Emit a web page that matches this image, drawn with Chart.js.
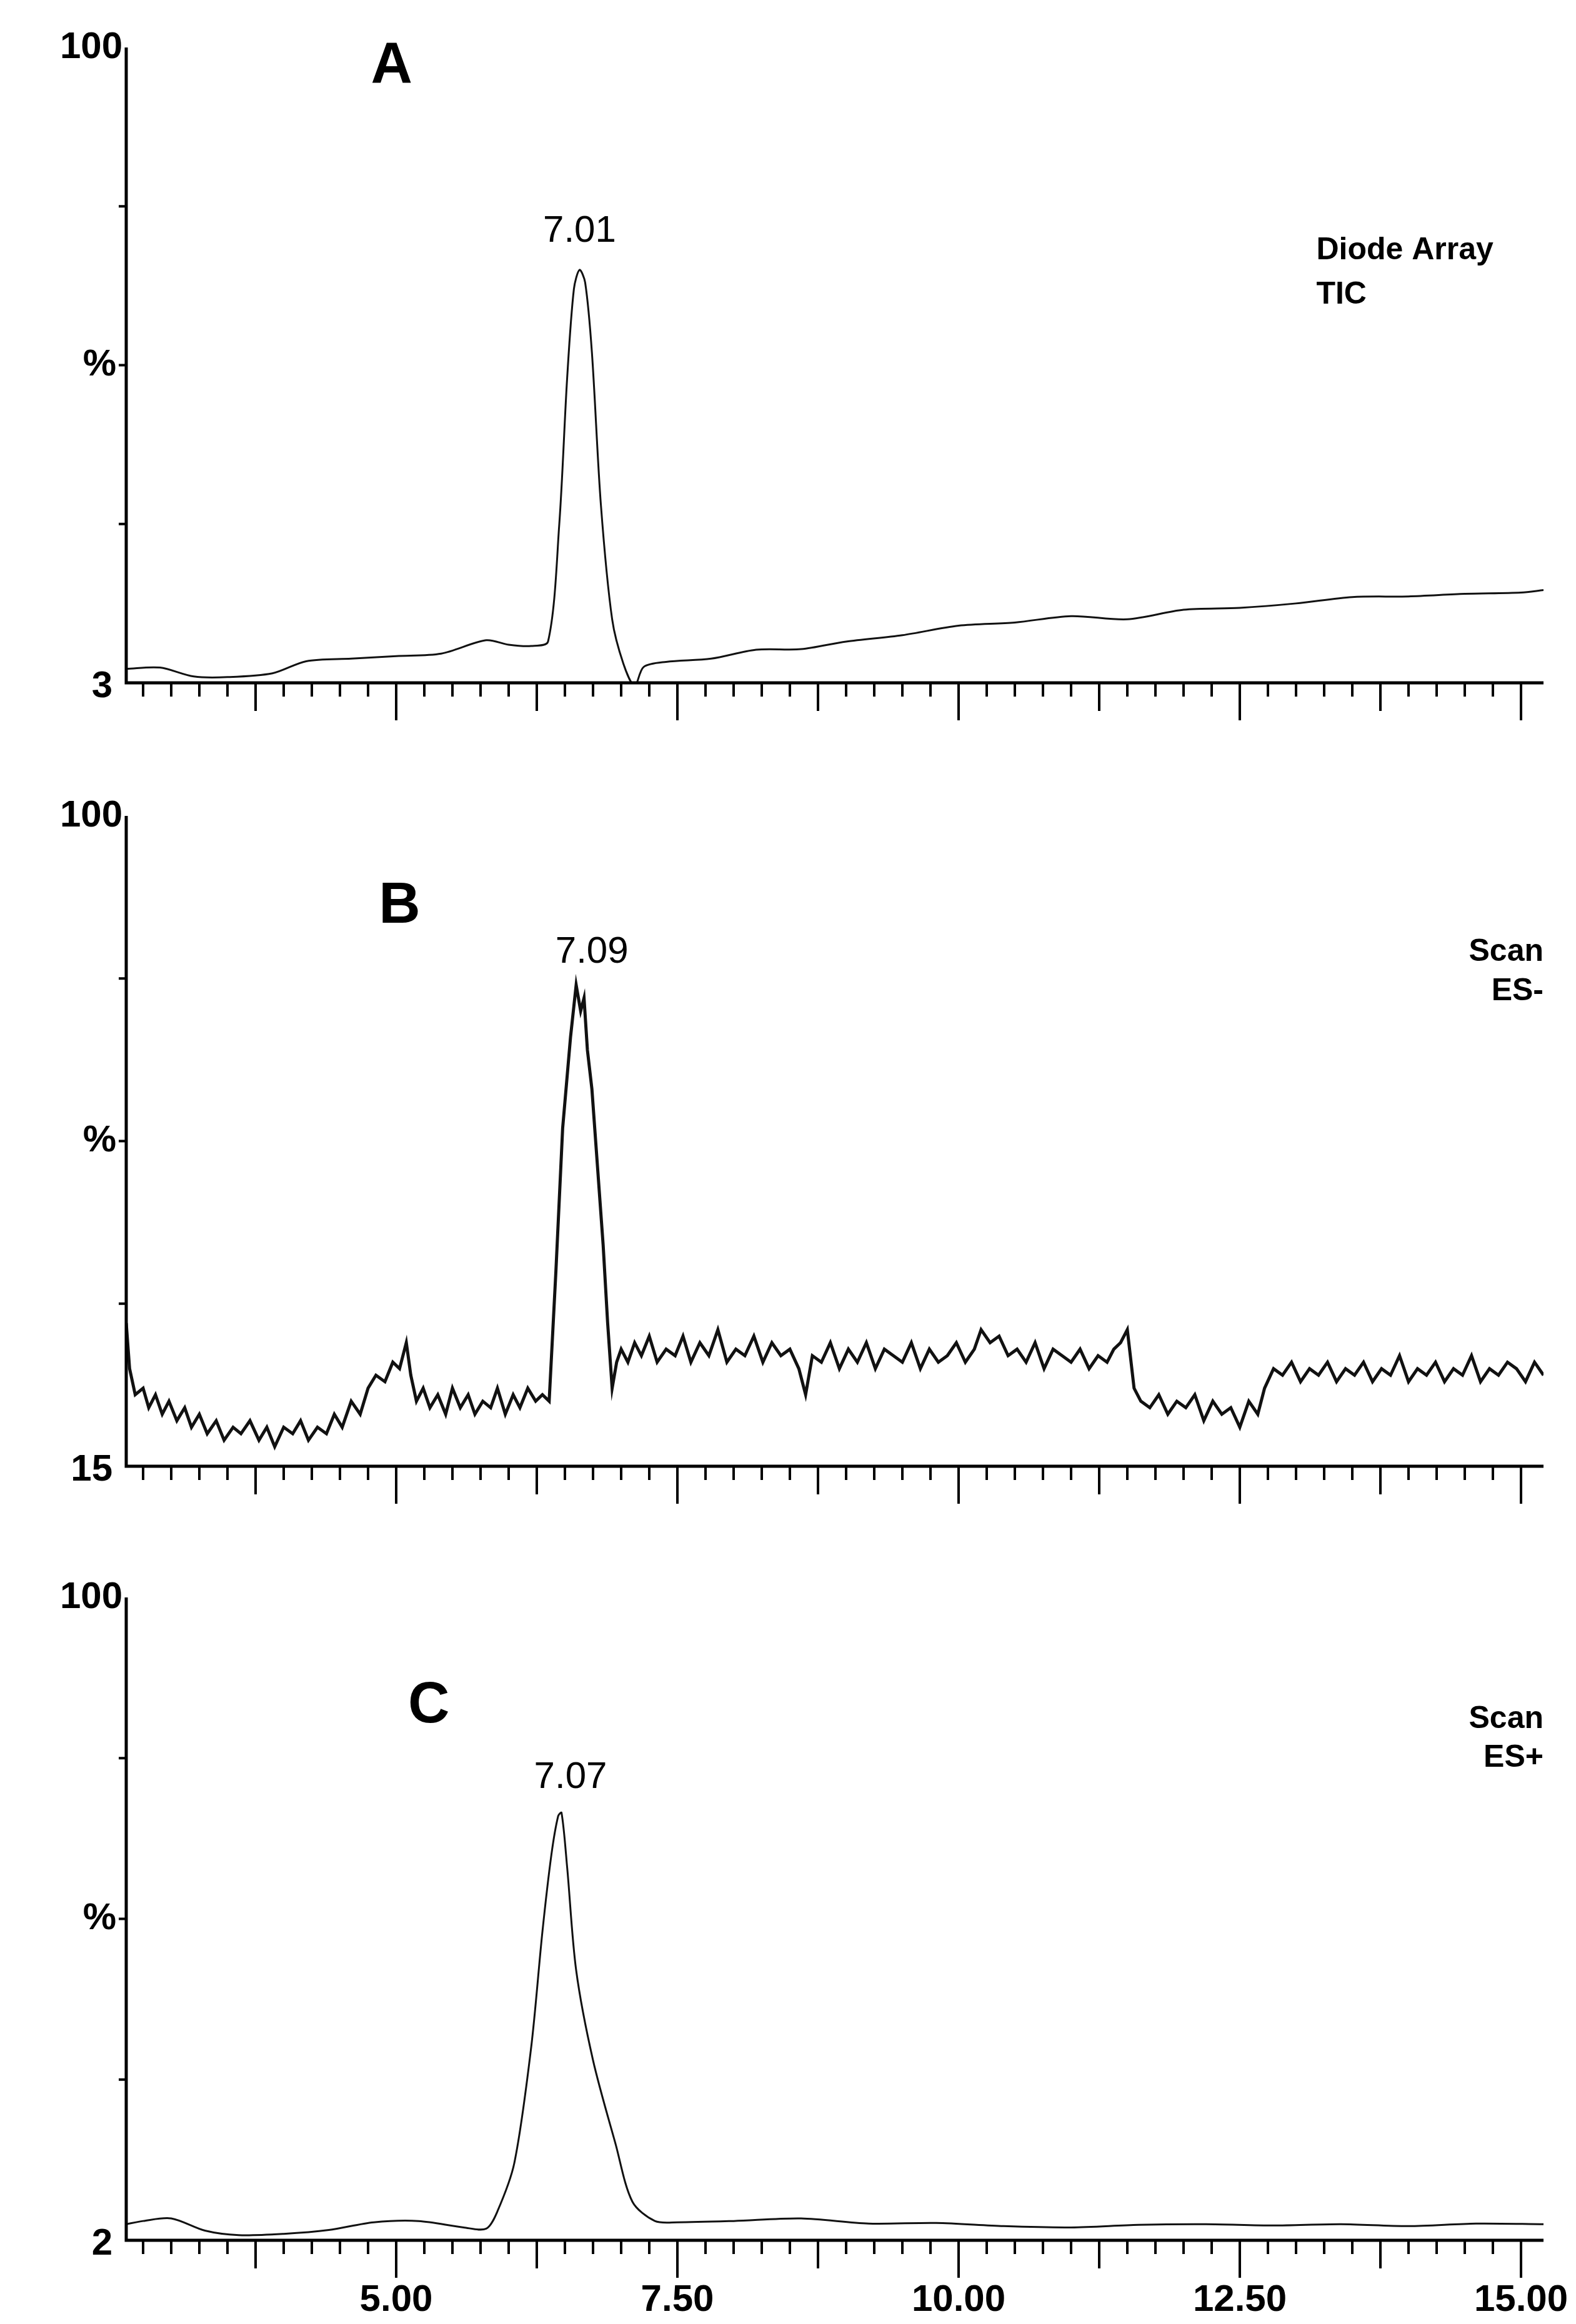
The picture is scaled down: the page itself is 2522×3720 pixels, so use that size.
<!DOCTYPE html>
<html><head><meta charset="utf-8">
<script src="https://cdn.jsdelivr.net/npm/chart.js@4.4.1/dist/chart.umd.min.js"></script>
<style>
body{margin:0;background:#fff;width:2522px;height:3720px;position:relative;overflow:hidden}
.p{position:absolute;left:0;width:2522px}
</style></head><body>
<div class="p" style="top:0;height:1200px"><canvas id="ca"></canvas></div>
<div class="p" style="top:1230px;height:1230px"><canvas id="cb"></canvas></div>
<div class="p" style="top:2480px;height:1240px"><canvas id="cc"></canvas></div>
<script>
// retention time (min) / relative intensity (% of panel range)
const timeA = [2.6,2.9,3.2,3.5,3.9,4.2,4.6,5.0,5.4,5.8,6.0,6.2,6.35,6.45,6.52,6.58,6.63,6.68,6.74,6.82,6.92,7.02,7.12,7.2,7.4,7.8,8.2,8.6,9.0,9.5,10.0,10.5,11.0,11.5,12.0,12.5,13.0,13.5,14.0,14.5,15.0,15.2];
const valA  = [2.2,2.4,1.0,0.9,1.5,3.4,3.8,4.2,4.6,6.7,6.0,5.8,6.5,25,48,62,65,63,52,28,10,3,-0.5,2.5,3.3,3.8,5.2,5.3,6.5,7.5,9.0,9.5,10.5,10.0,11.5,11.8,12.5,13.5,13.6,14.0,14.2,14.6];

const timeB = [2.6,2.63,2.68,2.75,2.8,2.86,2.92,2.98,3.05,3.12,3.18,3.25,3.32,3.4,3.47,3.55,3.62,3.7,3.78,3.85,3.92,4.0,4.08,4.15,4.22,4.3,4.38,4.45,4.52,4.6,4.68,4.75,4.82,4.9,4.97,5.03,5.09,5.13,5.18,5.24,5.3,5.37,5.44,5.5,5.57,5.64,5.7,5.77,5.84,5.9,5.97,6.04,6.1,6.17,6.24,6.3,6.36,6.42,6.48,6.55,6.6,6.64,6.67,6.7,6.74,6.79,6.84,6.88,6.92,6.96,7.0,7.06,7.12,7.18,7.25,7.32,7.4,7.48,7.55,7.62,7.7,7.78,7.86,7.94,8.02,8.1,8.18,8.26,8.34,8.42,8.5,8.58,8.64,8.7,8.78,8.86,8.94,9.02,9.1,9.18,9.26,9.34,9.42,9.5,9.58,9.66,9.74,9.82,9.9,9.98,10.06,10.14,10.2,10.28,10.36,10.44,10.52,10.6,10.68,10.76,10.84,10.92,11.0,11.08,11.16,11.24,11.32,11.38,11.44,11.5,11.56,11.62,11.7,11.78,11.86,11.94,12.02,12.1,12.18,12.26,12.34,12.42,12.5,12.58,12.66,12.72,12.8,12.88,12.96,13.04,13.12,13.2,13.28,13.36,13.44,13.52,13.6,13.68,13.76,13.84,13.92,14.0,14.08,14.16,14.24,14.32,14.4,14.48,14.56,14.64,14.72,14.8,14.88,14.96,15.04,15.12,15.2];
const valB  = [22,15,11,12,9,11,8,10,7,9,6,8,5,7,4,6,5,7,4,6,3,6,5,7,4,6,5,8,6,10,8,12,14,13,16,15,19,14,10,12,9,11,8,12,9,11,8,10,9,12,8,11,9,12,10,11,10,30,52,66,74,70,72,64,58,46,34,22,12,16,18,16,19,17,20,16,18,17,20,16,19,17,21,16,18,17,20,16,19,17,18,15,11,17,16,19,15,18,16,19,15,18,17,16,19,15,18,16,17,19,16,18,21,19,20,17,18,16,19,15,18,17,16,18,15,17,16,18,19,21,12,10,9,11,8,10,9,11,7,10,8,9,6,10,8,12,15,14,16,13,15,14,16,13,15,14,16,13,15,14,17,13,15,14,16,13,15,14,17,13,15,14,16,15,13,16,14,15,13];

const timeC = [2.6,2.75,3.0,3.3,3.6,4.0,4.4,4.8,5.2,5.6,5.8,5.9,6.05,6.2,6.3,6.38,6.44,6.47,6.52,6.6,6.75,6.95,7.1,7.3,7.5,8.0,8.6,9.2,9.8,10.4,11.0,11.6,12.2,12.8,13.4,14.0,14.6,15.2];
const valC  = [2.5,3.0,3.4,1.5,0.8,1.0,1.6,2.8,3.0,2.0,1.8,4.5,12,30,48,60,66,66.5,58,42,28,15,6,3,2.8,3.0,3.4,2.6,2.7,2.2,2.0,2.4,2.5,2.3,2.5,2.2,2.6,2.5];

const xTicks = ['5.00','7.50','10.00','12.50','15.00'];
const yTopLabel = '100', yMidLabel = '%';
const yBottomA = '3', yBottomB = '15', yBottomC = '2';

const FONT = '"Liberation Sans Narrow", "Liberation Sans", Arial, sans-serif';

function pts(t, v){ return t.map((x,i)=>({x:x, y:v[i]})).filter(p=>p.y!==undefined); }

const axisPlugin = {
  id:'axisDraw',
  afterDraw(chart, args, o){
    const {ctx, chartArea:a, scales:{x, y}} = chart;
    ctx.save();
    ctx.strokeStyle='#000'; ctx.fillStyle='#000';
    ctx.lineWidth=5;
    ctx.beginPath(); ctx.moveTo(a.left,a.top); ctx.lineTo(a.left,a.bottom); ctx.lineTo(a.right,a.bottom); ctx.stroke();
    ctx.lineWidth=4;
    for(let k=1;k<=60;k++){
      const v=2.5+k*0.25; if(v>x.max) break;
      const px=x.getPixelForValue(v);
      const m=Math.round(v*100)%250===0, h=Math.round(v*100)%125===0;
      const len=m?60:(h?45:22);
      ctx.beginPath(); ctx.moveTo(px,a.bottom); ctx.lineTo(px,a.bottom+len); ctx.stroke();
    }
    [25,50,75].forEach(v=>{
      const py=y.getPixelForValue(v);
      ctx.beginPath(); ctx.moveTo(a.left,py); ctx.lineTo(a.left-12,py); ctx.stroke();
    });
    ctx.font='bold 60px '+FONT; ctx.textAlign='right'; ctx.textBaseline='middle';
    ctx.fillText(yTopLabel,a.left-6,y.getPixelForValue(100));
    ctx.fillText(yMidLabel,a.left-16,y.getPixelForValue(50));
    ctx.fillText(o.bottom,a.left-22,y.getPixelForValue(0)+6);
    if(o.showX){
      ctx.textAlign='center'; ctx.textBaseline='top';
      xTicks.forEach(l=>ctx.fillText(l,x.getPixelForValue(parseFloat(l)),a.bottom+66));
    }
    o.texts.forEach(t=>{
      ctx.font=(t.bold?'bold ':'')+t.size+'px '+(t.bold&&t.size>80?'"Liberation Sans", Arial':FONT);
      ctx.textAlign=t.align||'center'; ctx.textBaseline='middle';
      ctx.fillText(t.s,x.getPixelForValue(t.x),y.getPixelForValue(t.y));
    });
    ctx.restore();
  }
};

function makeChart(id, t, v, bottom, texts, showX, pad, lw, tension){
  new Chart(document.getElementById(id), {
    type:'line',
    data:{datasets:[{data:pts(t,v), borderColor:'#111', borderWidth:lw, pointRadius:0, tension:tension, fill:false}]},
    options:{
      responsive:true, maintainAspectRatio:false, animation:false,
      layout:{padding:pad},
      plugins:{legend:{display:false}, tooltip:{enabled:false}, axisDraw:{bottom, texts, showX}},
      scales:{
        x:{type:'linear', min:2.6, max:15.2, display:false},
        y:{min:0, max:100, display:false}
      }
    },
    plugins:[axisPlugin]
  });
}

makeChart('ca', timeA, valA, yBottomA, [
  {s:'A', x:4.96, y:97, size:92, bold:true},
  {s:'7.01', x:6.63, y:71, size:60},
  {s:'Diode Array', x:13.18, y:68, size:50, bold:true, align:'left'},
  {s:'TIC', x:13.18, y:61, size:50, bold:true, align:'left'}
], false, {left:202, right:52, top:76, bottom:107}, 3, 0.3);

makeChart('cb', timeB, valB, yBottomB, [
  {s:'B', x:5.03, y:86, size:92, bold:true},
  {s:'7.09', x:6.74, y:79, size:60},
  {s:'Scan', x:15.2, y:79, size:50, bold:true, align:'right'},
  {s:'ES-', x:15.2, y:73, size:50, bold:true, align:'right'}
], false, {left:202, right:52, top:76, bottom:113}, 5, 0);

makeChart('cc', timeC, valC, yBottomC, [
  {s:'C', x:5.29, y:83, size:92, bold:true},
  {s:'7.07', x:6.55, y:72, size:60},
  {s:'Scan', x:15.2, y:81, size:50, bold:true, align:'right'},
  {s:'ES+', x:15.2, y:75, size:50, bold:true, align:'right'}
], true, {left:202, right:52, top:77, bottom:134}, 3, 0.3);
</script>
</body></html>
